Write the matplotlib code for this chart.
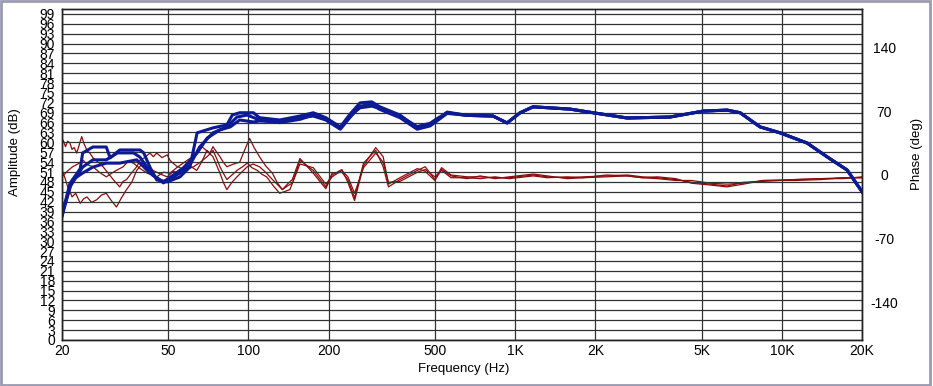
import matplotlib.pyplot as plt
from matplotlib.patches import Rectangle
import numpy as np

# amplitude curves (dB), three measurements
b1_f = [20, 21.4, 23.4, 23.9, 26.1, 29.3, 30.3, 32.9, 39.2, 40.5, 42.7, 45.3, 49.6, 55.3, 60.3, 64.2, 73.6, 83, 87, 92.7, 104.4]
b1_db = [38, 47.5, 52, 56.8, 58.6, 58.6, 55.3, 57.7, 57.7, 56.8, 52.5, 48.6, 48, 49.5, 52.5, 62.9, 64.4, 65.3, 68.3, 69, 69]
b2_f = [20, 21.4, 23.9, 26.1, 29.3, 32.3, 37.1, 39.2, 43.8, 48, 52.1, 56.9, 64.2, 70, 78.2, 85.5, 92.7, 104.4]
b2_db = [37.5, 46.5, 52.5, 54.7, 54.7, 56.8, 56.8, 55.5, 50, 48, 50, 52.2, 56.8, 61.3, 63.8, 64.7, 66.8, 66.2]
b3_f = [20, 21.9, 23.9, 26.1, 29.3, 32.9, 38.1, 42.7, 48, 55.3, 60.3, 65.6, 73.6, 83, 90.6, 99]
b3_db = [38.5, 48.6, 50.7, 52.5, 53.7, 53.7, 54.7, 50.7, 47.7, 50.7, 53.1, 58.6, 62.9, 64.7, 67.7, 68.3]

mid_f = [110, 131, 156, 175, 195, 221, 240, 262, 290, 311, 370, 429, 480, 509, 556]
b1_mid = [67.5, 66.8, 68.0, 69.0, 67.5, 64.7, 68.5, 72.0, 72.3, 70.8, 68.3, 64.4, 65.5, 66.8, 69.2]
b2_mid = [66.5, 66.2, 67.5, 68.0, 66.8, 64.0, 67.5, 71.0, 71.5, 70.0, 67.5, 64.0, 65.0, 66.5, 68.8]
b3_mid = [66.8, 66.0, 67.0, 68.3, 67.0, 64.3, 68.0, 70.5, 71.0, 70.3, 68.0, 64.8, 65.8, 67.2, 69.0]

hi_f = [661, 826, 933, 1044, 1168, 1608, 1960, 2630, 3810, 5070, 6234, 6975, 8290, 9850, 12440, 14790, 17580, 20000]
hi_db = [68.2, 68.0, 65.9, 69.0, 70.8, 70.1, 69.0, 67.4, 67.7, 69.5, 69.8, 69.0, 64.7, 62.9, 59.8, 55.6, 51.6, 45.0]

# phase curves (deg)
pa_f = [20, 20.2, 20.6, 21.0, 21.4, 21.8, 22.2, 22.7, 23.2, 23.7, 24.2, 24.8, 25.4, 26.1, 26.8, 27.6, 28.5, 29.6, 31.1, 32.0,
        32.9, 33.9, 34.9, 36.4, 38.1, 39.2, 40.8, 42.7, 44.0, 45.3, 47.4, 49.6, 50.8, 52.1, 53.6, 55.3, 58, 61, 64, 67,
        69.9, 71.7, 73.6, 76, 78.2, 80.5, 83, 88, 92.7, 97, 101, 105, 110, 116, 123, 128, 134, 140, 146]
pa_deg = [36, 38, 31, 37, 35, 28, 30, 24, 33, 42, 34, 27, 24, 19, 16, 13, 9, 3, -5, -9,
          -13, -7, -5, 2, 9, 16, 19, 24, 20, 24, 19, 22, 16, 13, 10, 8, 6, 9, 5, 15,
          27, 24, 31, 25, 20, 14, 9, 12, 14, 28, 40, 30, 20, 10, 2, -8, -16, -12, -9]
pb_f = [20, 20.5, 21.0, 21.4, 21.8, 22.5, 23.4, 24.1, 24.8, 25.8, 27.0, 28.1, 29.3, 30.6, 32.0, 33.4, 34.9, 36.5, 38.1, 39.1,
        40.2, 42.0, 43.9, 46.7, 49.6, 52.3, 55.3, 58.7, 62.2, 66, 69.9, 71.7, 73.6, 76, 78.2, 80.5, 83, 86.7, 90.6, 95,
        99, 103, 108, 112, 117, 124, 131, 137, 143]
pb_deg = [5, -3, -13, -18, -24, -20, -31, -26, -24, -30, -27, -22, -20, -28, -35, -25, -16, -8, 5, 9,
          13, 8, 5, 1, -2, 4, 2, 6, 9, 14, 20, 23, 27, 18, 9, 2, -5, 0, 5, 9,
          13, 8, 5, 1, -2, -12, -20, -18, -16]
pc_f = [20, 20.9, 21.9, 22.9, 24.0, 25.0, 26.1, 27.6, 29.3, 31.5, 33.9, 35.4, 37.0, 39.3, 41.7, 43.5, 45.3, 48, 50.8, 53.8,
        56.9, 60.3, 64, 66.9, 70, 73.6, 78.2, 80.5, 83, 86.7, 90.6, 95, 99, 104, 110, 116, 123, 128, 134, 140, 146]
pc_deg = [-2, 4, 9, 12, 16, 11, 9, 3, -2, 4, 9, 15, 13, 7, 2, 0, -2, 3, 2, 8,
          13, 18, 24, 31, 26, 20, 2, -8, -16, -8, -2, 4, 9, 12, 9, 3, -5, -10, -16, -10, -5]

ph_f = [156, 175, 195, 206, 224, 236, 250, 270, 300, 320, 335, 370, 430, 460, 500, 530, 575, 660, 740, 840, 950, 1170, 1320, 1570, 1800, 2200, 2630, 3000, 3420, 4000, 4590, 5400, 6230, 7180, 8500, 11200, 14000, 17000, 20000]
pa_hi = [16, 5, -13, 2, 3, -5, -25, 13, 27, 9, -13, -5, 5, 9, -5, 8, 0, -2, -2, -3, -3, 0, -2, -3, -2, -1, 0, -2, -3, -5, -8, -10, -12, -8, -7, -5, -4, -3, -3]
pb_hi = [12, 8, -10, -2, 5, -2, -20, 8, 24, 14, -8, -7, 3, 6, -2, 5, -3, -3, -4, -2, -4, -1, -3, -2, -3, 0, -1, -3, -4, -6, -6, -9, -10, -9, -6, -5, -4, -4, -2]
pc_hi = [18, 2, -15, 0, 6, -8, -28, 10, 30, 20, -10, -3, 7, 4, -6, 6, -1, -4, -1, -4, -2, 1, -1, -4, -3, -2, -1, -3, -2, -4, -9, -11, -13, -10, -6, -6, -5, -3, -3]

xticks = [20, 50, 100, 200, 500, 1000, 2000, 5000, 10000, 20000]
xlabels = ['20', '50', '100', '200', '500', '1K', '2K', '5K', '10K', '20K']

plt.rcParams['font.family'] = ['Liberation Sans', 'DejaVu Sans']
plt.rcParams['axes.unicode_minus'] = False
fig, ax = plt.subplots(figsize=(9.33, 3.86), dpi=100)
fig.subplots_adjust(left=0.0665, right=0.924, bottom=0.1192, top=0.9767)
ax2 = ax.twinx()
ax.set_zorder(ax2.get_zorder() + 1)
ax.patch.set_visible(False)

blue = '#0c1a94'
red = '#8c0c0c'
for lo_f, lo_v, mid_v in [(b1_f, b1_db, b1_mid), (b2_f, b2_db, b2_mid), (b3_f, b3_db, b3_mid)]:
    ax.plot(lo_f + mid_f + hi_f, lo_v + mid_v + hi_db, color=blue, lw=2.2)
for lo_f, lo_v, hi_v in [(pa_f, pa_deg, pa_hi), (pb_f, pb_deg, pb_hi), (pc_f, pc_deg, pc_hi)]:
    ax2.plot(lo_f + ph_f, lo_v + hi_v, color=red, lw=0.9)

ax.set_xscale('log')
ax.set_xlim(20, 20000)
ax.set_ylim(0, 100.5)
ax2.set_ylim(-180.5, 181.6)
ax.set_xticks(xticks)
ax.set_xticklabels(xlabels)
ax.minorticks_off()
ax.set_yticks(np.arange(0, 100, 3))
ax2.set_yticks([-140, -70, 0, 70, 140])
ax.grid(True, color='#333333', lw=0.9)
ax.tick_params(axis='both', length=0, labelsize=10)
ax.tick_params(axis='y', pad=5)
ax.tick_params(axis='x', pad=3)
ax2.tick_params(axis='y', length=0, labelsize=10, pad=16)
for lab in ax2.get_yticklabels():
    lab.set_ha('center')
for s in list(ax.spines.values()) + list(ax2.spines.values()):
    s.set_color('#222222')
    s.set_linewidth(1)

fig.text(15 / 933, 1 - 152 / 386, 'Amplitude (dB)', rotation=90, ha='center', va='center', fontsize=9.5)
fig.text(917 / 933, 1 - 154 / 386, 'Phase (deg)', rotation=90, ha='center', va='center', fontsize=9.5)
fig.text(464 / 933, 1 - 369 / 386, 'Frequency (Hz)', ha='center', va='center', fontsize=9.5)

fig.patches.append(Rectangle((0.001, 0.003), 0.996, 0.994, transform=fig.transFigure,
                             fill=False, edgecolor='#9a9ab0', lw=2))
fig.savefig('out.png', dpi=100)
